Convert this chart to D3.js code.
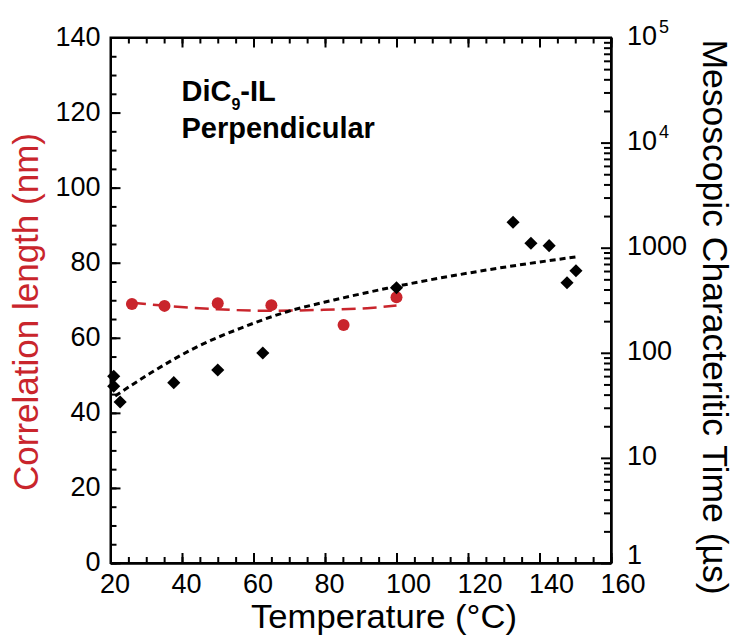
<!DOCTYPE html>
<html lang="en">
<head>
    <meta charset="UTF-8">
    <title>DiC9-IL Perpendicular</title>
    <script src="https://d3js.org/d3.v7.min.js"></script>
    <style>
        body { margin: 0; background: #fff; }
        svg { font-family: "Liberation Sans", Arial, sans-serif; }
    </style>
</head>
<body>
    <svg width="738" height="635"></svg>
    <script>
        // tick values
        const tempTicks = [20, 40, 60, 80, 100, 120, 140, 160];
        const corrTicks = [0, 20, 40, 60, 80, 100, 120, 140];
        const timeTicks = [1, 10, 100, 1000, 1e4, 1e5];

        // correlation length (red, left axis)
        const corrTemp = [26.0, 35.1, 50.0, 65.0, 85.2, 100.0];
        const corrLen  = [69.0, 68.5, 69.2, 68.7, 63.4, 70.8];
        // red dashed fit
        const fitCorrTemp = [26, 35.8, 49.8, 63.8, 77.8, 91.8, 100];
        const fitCorrLen  = [69.3, 68.5, 67.6, 67.2, 67.4, 67.9, 68.6];

        // mesoscopic characteristic time (black, right log axis)
        const timeTemp = [20.9, 20.9, 22.7, 37.7, 50.0, 62.6, 100.0, 132.6, 137.6, 142.7, 147.7, 150.2];
        const timeVal  = [59.7, 48, 34, 52, 68.6, 99.6, 416, 1745, 1102, 1045, 464, 604];
        // black dotted fit
        const fitTimeTemp = [21.3, 31.1, 44.2, 56.3, 69.4, 82.5, 97.4, 106.7, 123.5, 150.6];
        const fitTimeVal  = [38.8, 63.8, 114, 171, 246, 318, 411, 475, 600, 821];

        const red = "#c9252c";
        const margin = {top: 37.5, right: 127, bottom: 72, left: 110.5};
        const width = 738, height = 635;

        const svg = d3.select("svg");

        const x = d3.scaleLinear().domain([20, 160]).range([margin.left, width - margin.right]);
        const yL = d3.scaleLinear().domain([0, 140]).range([height - margin.bottom, margin.top]);
        const yR = d3.scaleLog().domain([1, 1e5]).range([height - margin.bottom, margin.top]);

        const minorTemp = d3.range(20, 161, 5);
        const minorCorr = d3.range(0, 141, 5);
        const minorTime = [];
        [1, 10, 100, 1000, 1e4].forEach(d => { for (let k = 2; k <= 9; k++) minorTime.push(d * k); });

        function style(g) {
            g.select(".domain").attr("stroke", "#000").attr("stroke-width", 2);
            g.selectAll(".tick line").attr("stroke", "#000").attr("stroke-width", 2);
        }

        const x0 = margin.left, x1 = width - margin.right;
        const y0 = height - margin.bottom, y1 = margin.top;

        // minor ticks
        svg.append("g").attr("transform", `translate(0,${y0})`)
            .call(d3.axisBottom(x).tickValues(minorTemp).tickSize(-6).tickSizeOuter(0).tickFormat(""))
            .call(style);
        svg.append("g").attr("transform", `translate(0,${y1})`)
            .call(d3.axisTop(x).tickValues(minorTemp).tickSize(-6).tickSizeOuter(0).tickFormat(""))
            .call(style);
        svg.append("g").attr("transform", `translate(${x0},0)`)
            .call(d3.axisLeft(yL).tickValues(minorCorr).tickSize(-6).tickSizeOuter(0).tickFormat(""))
            .call(style);
        svg.append("g").attr("transform", `translate(${x1},0)`)
            .call(d3.axisRight(yR).tickValues(minorTime).tickSize(-7).tickSizeOuter(0).tickFormat(""))
            .call(style);

        // bottom major
        const gx = svg.append("g").attr("transform", `translate(0,${y0})`)
            .call(d3.axisBottom(x).tickValues(tempTicks).tickSize(-10).tickSizeOuter(0).tickPadding(0))
            .call(style);
        gx.selectAll(".tick text")
            .attr("font-size", 27).attr("fill", "#000")
            .attr("text-anchor", "start").attr("x", -11)
            .attr("y", 30).attr("dy", 0);

        // top major
        svg.append("g").attr("transform", `translate(0,${y1})`)
            .call(d3.axisTop(x).tickValues(tempTicks).tickSize(-10).tickSizeOuter(0).tickFormat(""))
            .call(style);

        // left major
        const gl = svg.append("g").attr("transform", `translate(${x0},0)`)
            .call(d3.axisLeft(yL).tickValues(corrTicks).tickSize(-10).tickSizeOuter(0).tickPadding(10))
            .call(style);
        gl.selectAll(".tick text")
            .attr("font-size", 27).attr("fill", "#000")
            .attr("dy", 0).attr("y", 7.5);

        // right major (log)
        const gr = svg.append("g").attr("transform", `translate(${x1},0)`)
            .call(d3.axisRight(yR).tickValues(timeTicks).tickSize(-10).tickSizeOuter(0).tickFormat(""))
            .call(style);
        gr.selectAll(".tick").each(function(d) {
            const t = d3.select(this).append("text")
                .attr("x", 16).attr("y", d === 1 ? 0.5 : 6.5)
                .attr("font-size", 27).attr("fill", "#000")
                .attr("text-anchor", "start");
            if (d >= 1e4) {
                t.append("tspan").text("10");
                t.append("tspan").attr("font-size", 18).attr("dy", -12).attr("dx", 2)
                    .text(Math.round(Math.log10(d)));
            } else {
                t.text(d);
            }
        });

        // closing corners
        svg.append("rect")
            .attr("x", x0).attr("y", y1)
            .attr("width", x1 - x0).attr("height", y0 - y1)
            .attr("fill", "none").attr("stroke", "#000").attr("stroke-width", 2);

        // fits
        const redLine = d3.line()
            .x((d, i) => x(fitCorrTemp[i]))
            .y(d => yL(d))
            .curve(d3.curveMonotoneX);
        svg.append("path")
            .attr("d", redLine(fitCorrLen))
            .attr("fill", "none").attr("stroke", red)
            .attr("stroke-width", 2.5).attr("stroke-dasharray", "14,7");

        const blackLine = d3.line()
            .x((d, i) => x(fitTimeTemp[i]))
            .y(d => yR(d))
            .curve(d3.curveMonotoneX);
        svg.append("path")
            .attr("d", blackLine(fitTimeVal))
            .attr("fill", "none").attr("stroke", "#000")
            .attr("stroke-width", 3).attr("stroke-dasharray", "6,4");

        // red circles
        svg.append("g").selectAll("circle")
            .data(corrLen)
            .join("circle")
            .attr("cx", (d, i) => x(corrTemp[i]))
            .attr("cy", d => yL(d))
            .attr("r", 6)
            .attr("fill", red);

        // black diamonds
        const diamond = d3.symbol().type(d3.symbolDiamond2).size(110);
        svg.append("g").selectAll("path")
            .data(timeVal)
            .join("path")
            .attr("transform", (d, i) => `translate(${x(timeTemp[i])},${yR(d)})`)
            .attr("d", diamond)
            .attr("fill", "#000");

        // axis titles
        svg.append("text")
            .attr("x", 384).attr("y", 627.5)
            .attr("text-anchor", "middle")
            .attr("font-size", 32.5)
            .attr("textLength", 266)
            .attr("lengthAdjust", "spacingAndGlyphs")
            .text("Temperature (°C)");

        svg.append("text")
            .attr("transform", "translate(38,312) rotate(-90)")
            .attr("text-anchor", "middle")
            .attr("font-size", 35)
            .attr("fill", red)
            .text("Correlation length (nm)");

        svg.append("text")
            .attr("transform", "translate(703,317) rotate(90)")
            .attr("text-anchor", "middle")
            .attr("font-size", 35.5)
            .text("Mesoscopic Characteritic Time (µs)");

        // annotation
        const note = svg.append("text")
            .attr("x", 181.5).attr("y", 101)
            .attr("font-size", 29).attr("font-weight", "bold");
        note.append("tspan").text("DiC");
        note.append("tspan").attr("font-size", 16).attr("dy", 9).text("9");
        note.append("tspan").attr("dy", -9).text("-IL");
        svg.append("text")
            .attr("x", 181.5).attr("y", 138)
            .attr("font-size", 29).attr("font-weight", "bold")
            .text("Perpendicular");
    </script>
</body>
</html>
